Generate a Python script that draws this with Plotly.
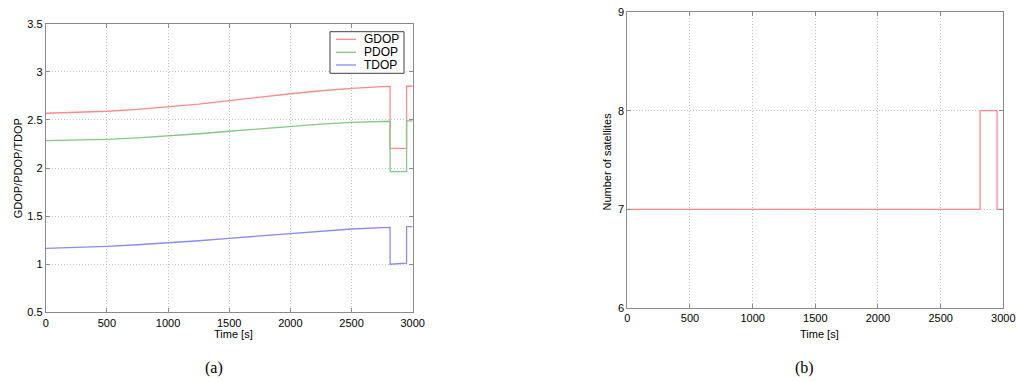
import plotly.graph_objects as go

# ---- data ----
time_dop = [0, 250, 500, 750, 1000, 1250, 1500, 1750, 2000, 2250, 2500, 2750, 2815, 2815, 2950, 2950, 3000]
gdop = [2.569, 2.576, 2.590, 2.610, 2.634, 2.665, 2.700, 2.737, 2.772, 2.803, 2.828, 2.845, 2.849,
        2.205, 2.205, 2.850, 2.850]
pdop = [2.284, 2.288, 2.298, 2.313, 2.333, 2.356, 2.382, 2.408, 2.433, 2.456, 2.475, 2.484, 2.486,
        1.962, 1.962, 2.490, 2.490]
tdop = [1.165, 1.172, 1.186, 1.202, 1.220, 1.244, 1.269, 1.295, 1.320, 1.345, 1.366, 1.380, 1.383,
        1.000, 1.010, 1.390, 1.390]

time_sat = [0, 2815, 2815, 2950, 2950, 3000]
n_sat = [7, 7, 8, 8, 7, 7]

x_ticks = [0, 500, 1000, 1500, 2000, 2500, 3000]
series_names = ["GDOP", "PDOP", "TDOP"]

RED = "#ff8a8a"
GREEN = "#86c686"
BLUE = "#8a8aff"
colors = [RED, GREEN, BLUE]
FONT = "Liberation Sans, Arial, sans-serif"
SERIF = "Liberation Serif, Times New Roman, serif"
W, H = 1017, 381


def px(x):
    return x / W


def py(y):
    return 1 - y / H


fig = go.Figure()
for name, vals, c in zip(series_names, [gdop, pdop, tdop], colors):
    fig.add_trace(go.Scatter(x=time_dop, y=vals, mode="lines", name=name,
                             line=dict(color=c, width=1.3), xaxis="x", yaxis="y",
                             showlegend=False))
fig.add_trace(go.Scatter(x=time_sat, y=n_sat, mode="lines", name="Satellites",
                         line=dict(color=RED, width=1.3), xaxis="x2", yaxis="y2",
                         showlegend=False))

axis_common = dict(
    showline=True, linecolor="#8a8a8a", linewidth=1, mirror="allticks",
    ticks="inside", ticklen=4, tickcolor="#8a8a8a",
    showgrid=True, gridcolor="#c4c4c4", griddash="1px,2px", gridwidth=1,
    zeroline=False, automargin=False,
    tickfont=dict(family=FONT, size=11, color="#000"),
)

# manual legend (MATLAB-style compact box)
shapes = [dict(type="rect", xref="paper", yref="paper",
               x0=px(330), x1=px(404), y0=py(73.3), y1=py(31.7),
               line=dict(color="#404040", width=1), fillcolor="white", layer="above")]
annotations = []
leg_y = [39.3, 52.3, 65.0]
for name, c, yy in zip(series_names, colors, leg_y):
    shapes.append(dict(type="line", xref="paper", yref="paper",
                       x0=px(336), x1=px(356), y0=py(yy), y1=py(yy),
                       line=dict(color=c, width=1.3), layer="above"))
    annotations.append(dict(text=name, x=px(362), y=py(yy), xref="paper", yref="paper",
                            xanchor="left", yanchor="middle", showarrow=False,
                            font=dict(family=FONT, size=12, color="#000")))


def label(text, x, y, size=11, family=FONT, angle=0):
    return dict(text=text, x=px(x), y=py(y), xref="paper", yref="paper",
                xanchor="center", yanchor="middle", showarrow=False, textangle=angle,
                font=dict(family=family, size=size, color="#000"))


annotations += [
    label("Time [s]", 233.5, 333.5),
    label("Time [s]", 819, 333.5),
    label("GDOP/PDOP/TDOP", 17.8, 168.5, angle=-90),
    label("Number of satellites", 606.5, 162, angle=-90),
    label("(a)", 214, 368, size=16, family=SERIF),
    label("(b)", 804, 368, size=16, family=SERIF),
]

fig.update_layout(
    width=W, height=H,
    margin=dict(l=0, r=0, t=0, b=0),
    paper_bgcolor="white", plot_bgcolor="white",
    font=dict(family=FONT, size=11, color="#000"),
    showlegend=False,
    xaxis=dict(domain=[px(45.7), px(412.7)], range=[0, 3000], tickvals=x_ticks,
               anchor="y", **axis_common),
    yaxis=dict(domain=[py(312.3), py(23.7)], range=[0.5, 3.5], dtick=0.5,
               anchor="x", **axis_common),
    xaxis2=dict(domain=[px(627.3), px(1003.3)], range=[0, 3000], tickvals=x_ticks,
                anchor="y2", **axis_common),
    yaxis2=dict(domain=[py(308), py(12)], range=[6, 9], dtick=1,
                anchor="x2", **axis_common),
    shapes=shapes,
    annotations=annotations,
)

fig.write_html("out.html")
